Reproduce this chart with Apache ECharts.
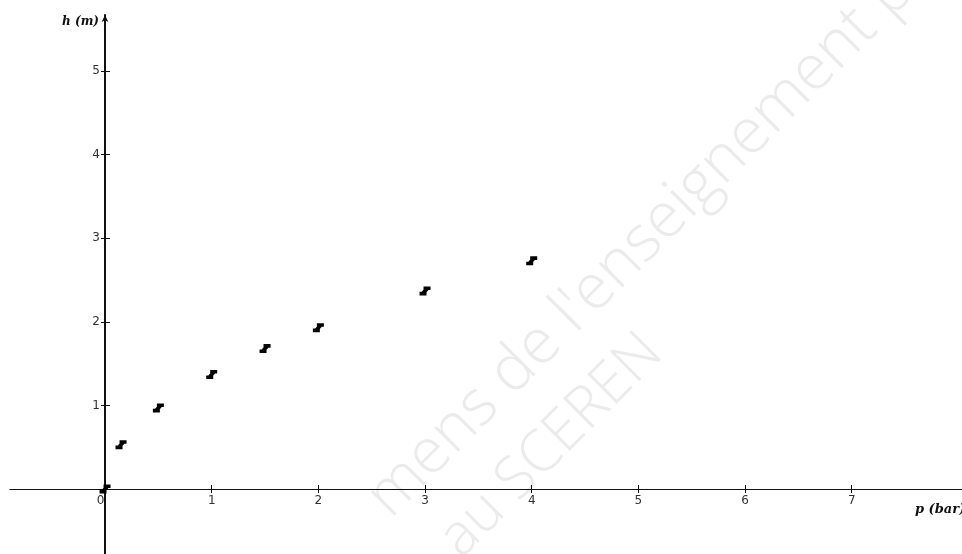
<!DOCTYPE html>
<html>
<head>
<meta charset="utf-8">
<script src="https://cdn.jsdelivr.net/npm/echarts@6/dist/echarts.min.js"></script>
<style>
html,body{margin:0;padding:0;background:#fff;}
#c{width:962px;height:554px;}
</style>
</head>
<body>
<div id="c"></div>
<script>
// Data
const pressure = [0, 0.15, 0.5, 1, 1.5, 2, 3, 4];             // p (bar)
const height   = [0, 0.53, 0.97, 1.37, 1.68, 1.93, 2.37, 2.73]; // h (m)
const xTickValues = [1, 2, 3, 4, 5, 6, 7];
const xLabelValues = [0, 1, 2, 3, 4, 5, 6, 7];
const yTickValues = [1, 2, 3, 4, 5];
const xName = 'p (bar)';
const yName = 'h (m)';
const watermark1 = "mens de l'enseignement pr";
const watermark2 = 'au SCEREN';

const points = pressure.map((p, i) => [p, height[i]]);

const X_MIN = -0.891, X_MAX = 8.034;
const Y_MIN = -0.778, Y_MAX = 5.671;

const markPath = 'path://M4,0 H11 V3.6 H4 Z M0,5.4 H7 V9 H0 Z M6,1 L9.5,2.8 L5,8 L1.5,6.2 Z';

const labelFont = { fontFamily: 'DejaVu Sans', fontSize: 12, color: '#333' };
const tickLine = { color: '#111', width: 1 };
const gridBase = { containLabel: false, outerBoundsMode: 'none' };

const chart = echarts.init(document.getElementById('c'), null, { renderer: 'canvas' });
chart.setOption({
  animation: false,
  backgroundColor: '#ffffff',
  grid: [
    { ...gridBase, left: 10, right: 0, top: 15, bottom: 65 },
    { ...gridBase, left: 105, right: 0, top: 15, bottom: 0 },
    { ...gridBase, left: 10, right: 0, top: 15, bottom: 65 },
    { ...gridBase, left: 105, right: 0, top: 15, bottom: 0 }
  ],
  xAxis: [
    {
      gridIndex: 0, type: 'value', min: X_MIN, max: X_MAX, position: 'bottom',
      name: xName, nameLocation: 'end', nameGap: -47,
      nameTextStyle: { fontFamily: 'DejaVu Serif', fontStyle: 'italic', fontWeight: 'bold', fontSize: 13, color: '#111', align: 'left', verticalAlign: 'top', padding: [14, 0, 0, 0] },
      axisLine: { show: true, onZero: false, lineStyle: { color: '#111', width: 1.2 } },
      axisTick: { show: true, length: 4, customValues: xTickValues, lineStyle: tickLine },
      axisLabel: {
        show: true, margin: 6, customValues: xLabelValues, ...labelFont,
        formatter: v => (v === 0 ? '{z|0}' : String(v)),
        rich: { z: { ...labelFont, padding: [0, 9, 0, 0] } }
      },
      splitLine: { show: false }
    },
    { gridIndex: 1, type: 'value', min: 0, max: X_MAX, show: false },
    {
      gridIndex: 2, type: 'value', min: X_MIN, max: X_MAX, position: 'bottom',
      axisLine: { show: false, onZero: false },
      axisTick: { show: true, inside: true, length: 4, customValues: xTickValues, lineStyle: tickLine },
      axisLabel: { show: false },
      splitLine: { show: false }
    },
    { gridIndex: 3, type: 'value', min: 0, max: X_MAX, show: false }
  ],
  yAxis: [
    { gridIndex: 0, type: 'value', min: 0, max: Y_MAX, show: false },
    {
      gridIndex: 1, type: 'value', min: Y_MIN, max: Y_MAX, position: 'left',
      name: yName, nameLocation: 'end', nameGap: -1,
      nameTextStyle: { fontFamily: 'DejaVu Serif', fontStyle: 'italic', fontWeight: 'bold', fontSize: 12, color: '#111', align: 'right', verticalAlign: 'top', padding: [0, 6, 0, 0] },
      axisLine: { show: true, onZero: false, symbol: ['none', 'arrow'], symbolSize: [5, 7], lineStyle: { color: '#111', width: 2 } },
      axisTick: { show: true, length: 4, customValues: yTickValues, lineStyle: tickLine },
      axisLabel: { show: true, margin: 5, customValues: yTickValues, ...labelFont },
      splitLine: { show: false }
    },
    { gridIndex: 2, type: 'value', min: 0, max: Y_MAX, show: false },
    {
      gridIndex: 3, type: 'value', min: Y_MIN, max: Y_MAX, position: 'left',
      axisLine: { show: false, onZero: false },
      axisTick: { show: true, inside: true, length: 5, customValues: yTickValues, lineStyle: tickLine },
      axisLabel: { show: false },
      splitLine: { show: false }
    }
  ],
  series: [
    {
      type: 'scatter', xAxisIndex: 0, yAxisIndex: 0,
      data: points,
      symbol: markPath, symbolSize: [11, 9],
      itemStyle: { color: '#000', opacity: 1 },
      clip: false,
      z: 5
    }
  ],
  graphic: [
    {
      type: 'text', x: 400, y: 529, rotation: Math.PI / 4, silent: true, z: -1,
      style: { text: watermark1, fontFamily: 'Open Sans', fontWeight: 300, fontSize: 63, fill: '#ebebeb', align: 'left', verticalAlign: 'bottom' }
    },
    {
      type: 'text', x: 470, y: 568, rotation: Math.PI / 4, silent: true, z: -1,
      style: { text: watermark2, fontFamily: 'Open Sans', fontWeight: 300, fontSize: 58, fill: '#ebebeb', align: 'left', verticalAlign: 'bottom' }
    }
  ]
});
</script>
</body>
</html>
